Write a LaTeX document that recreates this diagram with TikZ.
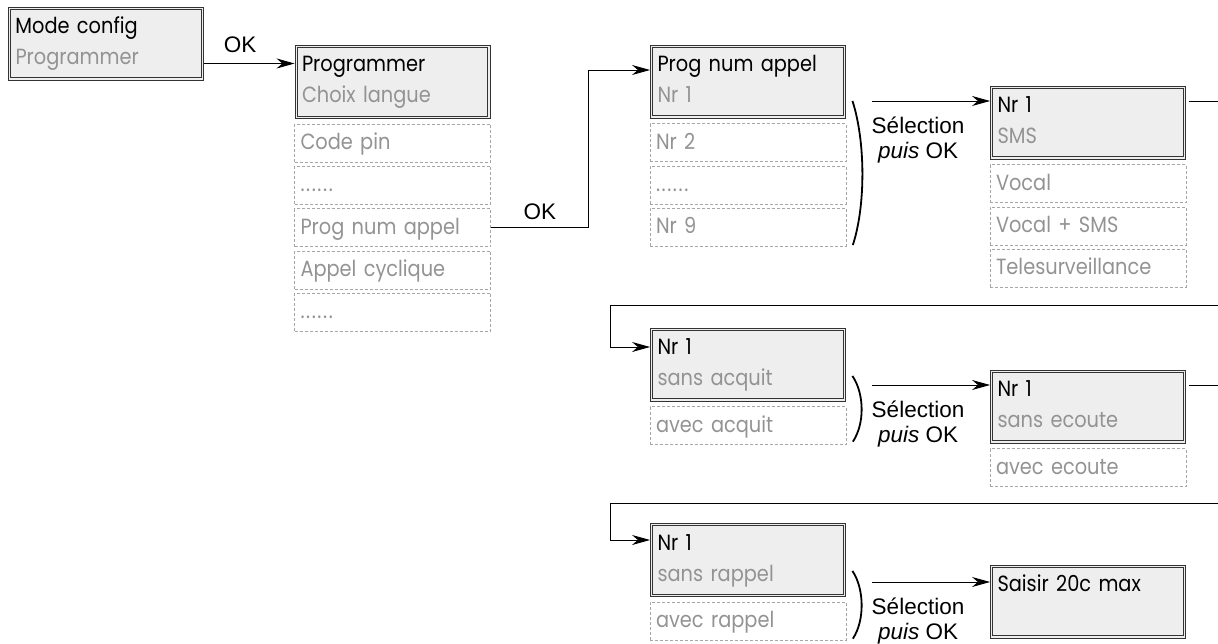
\documentclass[tikz,border=0pt]{standalone}
\usepackage{fontspec}
\setmainfont{Poppins}[FakeStretch=0.88]
\newfontfamily\lblfont{Liberation Sans}
\usetikzlibrary{arrows.meta,positioning,calc}
\definecolor{screenfill}{HTML}{EEEEEE}
\definecolor{dimtext}{HTML}{939393}
\newcommand\menudots{.\kern1.6pt.\kern1.6pt.\kern1.6pt.\kern1.6pt.\kern1.6pt.}

\begin{document}
\begin{tikzpicture}[
  x=1pt, y=-1pt,
  node distance=3.5pt,
  screen/.style={draw=black!80,line width=0.9pt,fill=screenfill,minimum width=195pt,text width=181pt,inner xsep=7pt,inner ysep=0pt,text height=26.5pt,text depth=46.5pt,align=left,font=\fontsize{22}{31}\selectfont},
  inner frame/.style={draw=black!80,line width=0.9pt},
  entry/.style={draw=black!35,dash pattern=on 3pt off 2pt,line width=0.7pt,minimum width=196pt,text width=184pt,inner xsep=6pt,inner ysep=0pt,text height=25.5pt,text depth=12.5pt,align=left,text=dimtext,font=\fontsize{22}{31}\selectfont},
  arr/.style={-{Stealth[length=18pt,width=10pt]},line width=0.9pt},
  paren/.style={line width=1.8pt},
  lbl/.style={font=\lblfont\fontsize{22.5}{25}\selectfont,align=center,inner sep=0pt}
]
  \useasboundingbox (0,0) rectangle (1218,644);

  % screens and menu entries
  \node[screen] (mode) at (106,43.5) {Mode config\\\textcolor{dimtext}{Programmer}};

  \node[screen] (prog) at (392.5,82) {Programmer\\\textcolor{dimtext}{Choix langue}};
  \node[entry,below=5pt of prog] (codepin) {Code pin};
  \node[entry,below=of codepin] (dotsa) {\menudots};
  \node[entry,below=of dotsa] (progitem) {Prog num appel};
  \node[entry,below=of progitem] (cyclic) {Appel cyclique};
  \node[entry,below=of cyclic] (dotsb) {\menudots};

  \node[screen] (numappel) at (748,81.5) {Prog num appel\\\textcolor{dimtext}{Nr 1}};
  \node[entry,below=5pt of numappel] (nrb) {Nr 2};
  \node[entry,below=of nrb] (dotsc) {\menudots};
  \node[entry,below=of dotsc] (nri) {Nr 9};

  \node[screen] (sms) at (1088,122.5) {Nr 1\\\textcolor{dimtext}{SMS}};
  \node[entry,below=5pt of sms] (vocal) {Vocal};
  \node[entry,below=of vocal] (vocalsms) {Vocal + SMS};
  \node[entry,below=of vocalsms] (telesurv) {Telesurveillance};

  \node[screen] (acquit) at (748,364.5) {Nr 1\\\textcolor{dimtext}{sans acquit}};
  \node[entry,below=5pt of acquit] (avecacquit) {avec acquit};

  \node[screen] (ecoute) at (1088,406.5) {Nr 1\\\textcolor{dimtext}{sans ecoute}};
  \node[entry,below=5pt of ecoute] (avececoute) {avec ecoute};

  \node[screen] (rappel) at (748,560) {Nr 1\\\textcolor{dimtext}{sans rappel}};
  \node[entry,below=5pt of rappel] (avecrappel) {avec rappel};

  \node[screen] (saisir) at (1088,601.5) {Saisir 20c max};

  % second line of the double frame
  \foreach \s in {mode,prog,numappel,sms,acquit,ecoute,rappel,saisir}
    \draw[inner frame] ([shift={(2.6pt,-2.6pt)}]\s.north west) rectangle ([shift={(-2.6pt,2.6pt)}]\s.south east);

  % page edge and wrap-around points
  \coordinate (rim) at (1218,0);
  \coordinate (reta) at (1218,305);
  \coordinate (retb) at (1218,503);
  \coordinate (sela) at ($(numappel.east)+(26,19.5)$);
  \coordinate (selb) at ($(acquit.east)+(26,20.5)$);
  \coordinate (selc) at ($(rappel.east)+(26,22)$);

  % OK steps
  \draw[arr] ([yshift=-20pt]mode.east) -- node[lbl,pos=0.4,above=10pt]{OK} ([yshift=-20pt]mode.east -| prog.west);
  \draw[arr] (progitem.east) -- node[lbl,above=8pt]{OK} ++(98,0) |- ([yshift=11.5pt]numappel.west);

  % first choice
  \draw[paren] ($(numappel.south east)+(6.5,-17.5)$) .. controls +(13,40) and +(13,-40) .. ($(nri.south east)+(6.5,-1.5)$);
  \draw[arr] (sela) -- node[lbl,pos=0.39,below=15pt]{Sélection\\\textit{puis} OK} (sela -| sms.west);
  \draw ([xshift=3pt]sms.east |- sela) -- (rim |- sela);
  \draw[arr] (reta) -| ($(acquit.west)+(-39.5,-17.5)$) -- ([yshift=17.5pt]acquit.west);

  % second choice
  \draw[paren] ($(acquit.south east)+(6.5,-25.5)$) .. controls +(12,18) and +(12,-18) .. ($(avecacquit.south east)+(6.5,-3.5)$);
  \draw[arr] (selb) -- node[lbl,pos=0.39,below=15pt]{Sélection\\\textit{puis} OK} (selb -| ecoute.west);
  \draw ([xshift=3pt]ecoute.east |- selb) -- (rim |- selb);
  \draw[arr] (retb) -| ($(rappel.west)+(-39.5,-20)$) -- ([yshift=20pt]rappel.west);

  % third choice
  \draw[paren] ($(rappel.south east)+(6.5,-26)$) .. controls +(12,18) and +(12,-18) .. ($(avecrappel.south east)+(6.5,-2)$);
  \draw[arr] (selc) -- node[lbl,pos=0.39,below=15pt]{Sélection\\\textit{puis} OK} (selc -| saisir.west);
\end{tikzpicture}
\end{document}
